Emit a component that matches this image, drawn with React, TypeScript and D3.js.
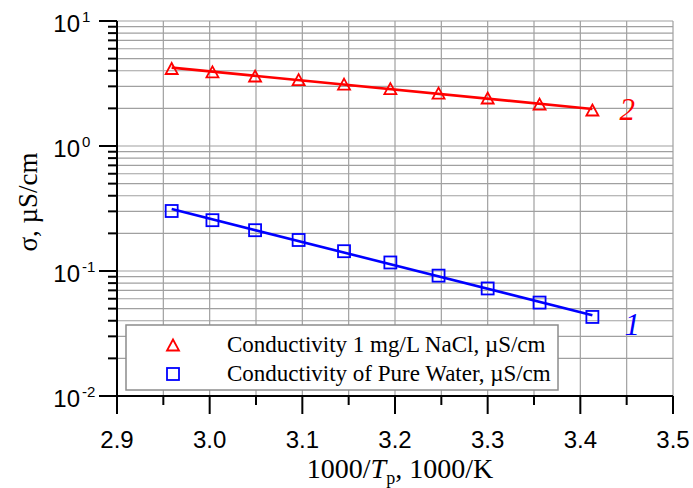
import React from 'react';
import * as d3 from 'd3';

// 1000/T (1000/K)
const invT = [2.959, 3.003, 3.049, 3.096, 3.145, 3.195, 3.247, 3.300, 3.356, 3.413];
// Series 2: Conductivity 1 mg/L NaCl, µS/cm
const naclSigma = [4.17, 3.92, 3.63, 3.40, 3.13, 2.88, 2.65, 2.42, 2.16, 1.94];
// Series 1: Conductivity of Pure Water, µS/cm
const pureSigma = [0.302, 0.255, 0.212, 0.177, 0.144, 0.117, 0.0918, 0.0725, 0.0559, 0.0429];
const xTickLabels = ['2.9', '3.0', '3.1', '3.2', '3.3', '3.4', '3.5'];
const yExponents = [-2, -1, 0, 1];
const legendLabels = ['Conductivity 1 mg/L NaCl, \u00B5S/cm', 'Conductivity of Pure Water, \u00B5S/cm'];
const seriesNames = ['2', '1'];

const W = 693, H = 488;
const L = 117, R = 673, T = 21, B = 396;

function fitLog(xs: number[], ys: number[]) {
  const ly = ys.map(Math.log10);
  const mx = d3.mean(xs)!, my = d3.mean(ly)!;
  let num = 0, den = 0;
  xs.forEach((x, i) => { num += (x - mx) * (ly[i] - my); den += (x - mx) ** 2; });
  const b = num / den, a = my - b * mx;
  return (x: number) => Math.pow(10, a + b * x);
}

export default function App() {
  const x = d3.scaleLinear().domain([2.9, 3.5]).range([L, R]);
  const y = d3.scaleLog().domain([0.01, 10]).range([B, T]);

  const xGrid = d3.range(0, 13).map(i => 2.9 + i * 0.05);
  const yGrid: number[] = [];
  for (let e = -2; e <= 0; e++) for (let m = 1; m <= 9; m++) yGrid.push(m * Math.pow(10, e));
  yGrid.push(10);

  const fitN = fitLog(invT, naclSigma);
  const fitP = fitLog(invT, pureSigma);
  const x0 = invT[0], x1 = invT[invT.length - 1];
  const line = d3.line<[number, number]>().x(d => x(d[0])).y(d => y(d[1]));

  const gridColor = '#a0a0a0';
  const sans = '"Liberation Sans", Arial, sans-serif';
  const serif = '"Liberation Serif", "Times New Roman", serif';

  const tri = (cx: number, cy: number) => `M${cx},${cy - 5.5}L${cx + 6},${cy + 5.5}L${cx - 6},${cy + 5.5}Z`;

  return (
    <svg width={W} height={H} style={{ position: 'absolute', left: 0, top: 0, background: '#fff' }}>
      <rect width={W} height={H} fill="#fff" />
      {/* grid */}
      {xGrid.map((v, i) => (
        <line key={'gx' + i} x1={x(v)} x2={x(v)} y1={T} y2={B} stroke={gridColor} strokeWidth={1.2} />
      ))}
      {yGrid.map((v, i) => (
        <line key={'gy' + i} x1={L} x2={R} y1={y(v)} y2={y(v)} stroke={gridColor} strokeWidth={1.2} />
      ))}

      {/* fit lines */}
      <path d={line([[x0, fitN(x0)], [x1, fitN(x1)]])!} stroke="#ff0000" strokeWidth={2.6} fill="none" />
      <path d={line([[x0, fitP(x0)], [x1, fitP(x1)]])!} stroke="#0000ff" strokeWidth={2.6} fill="none" />

      {/* markers */}
      {invT.map((v, i) => (
        <path key={'t' + i} d={tri(x(v), y(naclSigma[i]))} fill="none" stroke="#ff0000" strokeWidth={1.8} />
      ))}
      {invT.map((v, i) => (
        <rect key={'s' + i} x={x(v) - 6} y={y(pureSigma[i]) - 6} width={12} height={12} fill="none" stroke="#0000ff" strokeWidth={1.8} />
      ))}

      {/* series labels */}
      <text x={x(x1) + 27} y={y(naclSigma[naclSigma.length - 1]) + 10} fill="#ff0000" fontFamily={serif} fontStyle="italic" fontSize={31}>{seriesNames[0]}</text>
      <text x={x(x1) + 32} y={y(pureSigma[pureSigma.length - 1]) + 18} fill="#0000ff" fontFamily={serif} fontStyle="italic" fontSize={31}>{seriesNames[1]}</text>

      {/* axes */}
      <line x1={L} x2={L} y1={T} y2={B + 1} stroke="#000" strokeWidth={2} />
      <line x1={L - 1} x2={R} y1={B} y2={B} stroke="#000" strokeWidth={2} />

      {/* y ticks */}
      {yGrid.map((v, i) => {
        const major = Math.abs(Math.log10(v) - Math.round(Math.log10(v))) < 1e-9;
        return <line key={'yt' + i} x1={L - (major ? 18 : 9)} x2={L} y1={y(v)} y2={y(v)} stroke="#000" strokeWidth={2} />;
      })}
      {yExponents.map(e => (
        <text key={'yl' + e} x={80} y={y(Math.pow(10, e)) + 11} textAnchor="end" fontFamily={sans} fontSize={24} fill="#000">
          10
          <tspan x={82} dy={-10} fontSize={15} textAnchor="start">{e}</tspan>
        </text>
      ))}

      {/* x ticks */}
      {xGrid.map((v, i) => (
        <line key={'xt' + i} x1={x(v)} x2={x(v)} y1={B} y2={B + (i % 2 === 0 ? 18 : 9)} stroke="#000" strokeWidth={2} />
      ))}
      {xTickLabels.map((s, i) => (
        <text key={'xl' + i} x={x(2.9 + i * 0.1)} y={448} textAnchor="middle" fontFamily={sans} fontSize={24} fill="#000">{s}</text>
      ))}

      {/* axis titles */}
      <text x={400} y={478} textAnchor="middle" fontFamily={serif} fontSize={28} fill="#000">
        1000/<tspan fontStyle="italic">T</tspan><tspan dy={6} fontSize={18}>p</tspan><tspan dy={-6}>, 1000/K</tspan>
      </text>
      <text transform="translate(37,202) rotate(-90)" textAnchor="middle" fontFamily={serif} fontSize={27} fill="#000">
        {'\u03C3, \u00B5S/cm'}
      </text>

      {/* legend */}
      <rect x={126} y={325} width={432} height={65} fill="#fff" stroke="#8c8c8c" strokeWidth={1.5} />
      <path d={tri(173, 345)} fill="none" stroke="#ff0000" strokeWidth={1.8} />
      <rect x={167} y={368} width={12} height={12} fill="none" stroke="#0000ff" strokeWidth={1.8} />
      <text x={227} y={352} fontFamily={serif} fontSize={23} fill="#000">{legendLabels[0]}</text>
      <text x={227} y={381} fontFamily={serif} fontSize={23} fill="#000">{legendLabels[1]}</text>
    </svg>
  );
}
